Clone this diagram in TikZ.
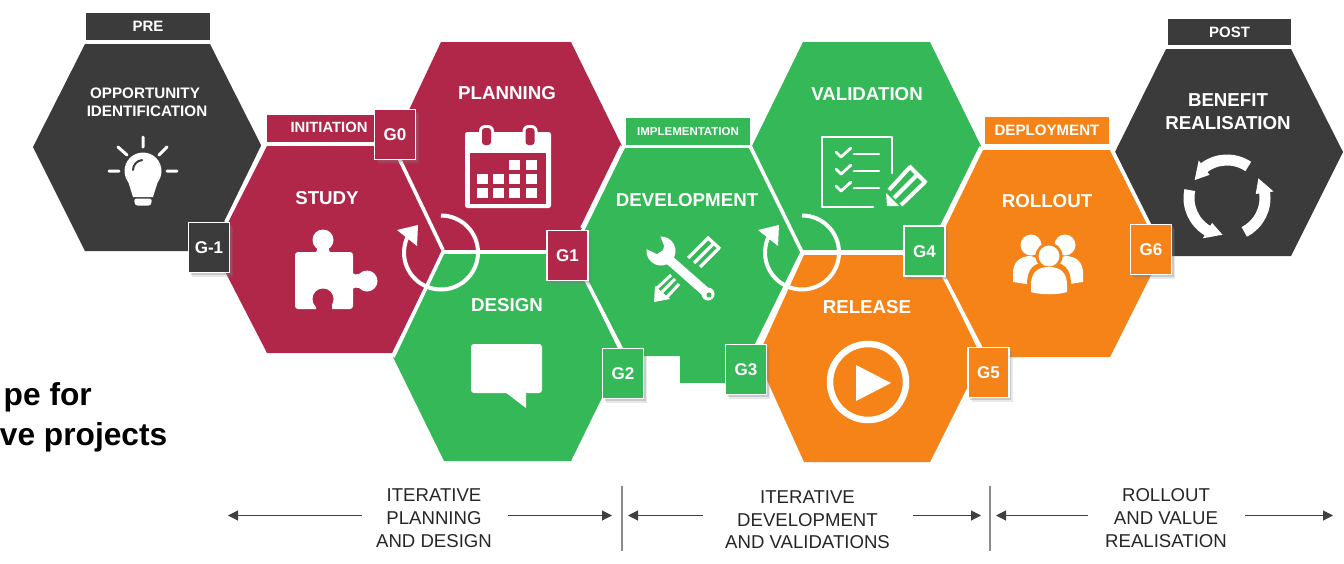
\documentclass[tikz,border=0pt]{standalone}
\usepackage{fontspec}
\setmainfont{Liberation Sans}
\usetikzlibrary{shadows,arrows.meta}
\definecolor{crim}{HTML}{B1274A}
\definecolor{grn}{HTML}{35B858}
\definecolor{org}{HTML}{F58318}
\definecolor{drk}{HTML}{3B3B3B}
\definecolor{arr}{HTML}{404040}
\definecolor{sep}{HTML}{8C8C8C}
\newcommand{\fs}[1]{\fontsize{#1}{#1}\selectfont}
\tikzset{
  capsnode/.style={inner sep=0pt,outer sep=0pt,text depth=0pt,align=center},
  capsize/.style={font=\fs{#1}\bfseries,text height={#1*0.716pt}},
  hextitle/.style={capsnode,text=white,capsize=18.7},
  smalltitle/.style={capsnode,text=white,capsize=15.2},
  banner/.style={capsnode,fill=#1,text=white,minimum height=27pt,minimum width=124pt},
  gate/.style={capsnode,fill=#1,draw=white,line width=1.6pt,text=white,capsize=17,
     minimum width=41pt,minimum height=50pt,
     drop shadow={opacity=.18,shadow xshift=3.5pt,shadow yshift=-4pt},
     drop shadow={opacity=.3,shadow xshift=2pt,shadow yshift=-2.5pt}},
  edge/.style={white,line width=3.6pt},
  bottomtext/.style={capsnode,text=black!85,font=\fs{18.6},text height=13.3pt},
  span/.style={arr,line width=1.1pt,-{Triangle[length=10pt,width=10pt]}},
  divider/.style={sep,line width=1.2pt},
  icon/.style={fill=white,draw=none},
  iconline/.style={white,line cap=round,line join=round},
}
\begin{document}
\begin{tikzpicture}[x=1pt,y=-1pt]
\useasboundingbox (0,0) rectangle (1344,563);
\clip (0,0) rectangle (1344,563);
% hexagons
\fill[drk] (85,44)--(210,44)--(262,147)--(210,251)--(85,251)--(33,147)--cycle;
\fill[crim] (267,146)--(392,146)--(443,250)--(392,353)--(267,353)--(214,250)--cycle;
\fill[crim] (441,42)--(571,42)--(622,146)--(571,250)--(443,250)--(392,146)--cycle;
\fill[grn] (443,254)--(572,254)--(622,357)--(571,461)--(444,461)--(393,357)--cycle;
\fill[grn] (625,148)--(750,148)--(802,252)--(750,356)--(625,356)--(574,252)--cycle;
\fill[grn] (680,350) rectangle (730,383);
\fill[grn] (803,42)--(930,42)--(981,146)--(930,250)--(802,250)--(752,146)--cycle;
\fill[org] (804,255)--(932,255)--(982,358)--(930,462)--(804,462)--(757,358)--cycle;
\fill[org] (983,150)--(1110,150)--(1162,253)--(1110,357)--(983,357)--(933,253)--cycle;
\fill[drk] (1166,49)--(1291,49)--(1343,152)--(1291,256)--(1166,256)--(1115,152)--cycle;
% white seams
\draw[edge] (263,146)--(226,222);
\draw[edge] (398,156)--(443,250);
\draw[edge,line join=round] (393,357)--(443,252)--(550,252);
\draw[edge] (622,146)--(582,228);
\draw[edge] (750,146)--(802,252);
\draw[edge] (585,278)--(622,350);
\draw[edge,line join=round] (755,348)--(802,252.5)--(905,252.5);
\draw[edge] (981,147)--(941,228);
\draw[edge] (943,275)--(982,350);
\draw[edge] (1112,150)--(1150,226);
% cycle arrows
\draw[white,line width=4pt] (441,215.5) arc[start angle=90,end angle=-212,radius=37pt];
\fill[white] (397,230)--(418,225)--(417,246)--cycle;
\draw[white,line width=4pt] (802,215.5) arc[start angle=90,end angle=-212,radius=37pt];
\fill[white] (758,230)--(779,225)--(778,246)--cycle;
% bulb icon
\fill[icon] (143,171) circle[radius=18.5pt];
\fill[icon] (128,181)--(133,197)--(153,197)--(158,181)--cycle;
\fill[icon,rounded corners=2.5pt] (134,198.5)--(152,198.5)--(151,205.5)--(135,205.5)--cycle;
\draw[drk,line width=2pt,line cap=round] (133,170) arc[start angle=180,end angle=95,radius=10pt];
\draw[iconline,line width=3pt] (143,137)--(143,147) (118,147)--(127,155) (167,147)--(159,155) (109,171)--(119,171) (167,171)--(177,171);
% calendar icon
\fill[icon,rounded corners=2.5pt] (465,132) rectangle (551,208);
\fill[crim] (470,153) rectangle (546,204);
\foreach \cx in {486.5,530}{
  \fill[icon,rounded corners=6pt] (\cx-7.5,125) rectangle (\cx+7.5,148);
  \fill[crim,rounded corners=3pt] (\cx-4.5,128) rectangle (\cx+4.5,145);
}
\foreach \cx/\cy in {509/160,526/160,477/174,493/174,509/174,526/174,477/188,493/188,509/188,526/188}{
  \fill[icon] (\cx,\cy) rectangle (\cx+11,\cy+9.5);
}
% puzzle icon
\fill[icon,rounded corners=3pt] (295,252) rectangle (353,309);
\fill[icon] (323,240) circle[radius=10.5pt];
\fill[icon] (313,254) .. controls (318,252) and (318,248) .. (316,246) -- (330,246) .. controls (328,248) and (328,252) .. (333,254) -- cycle;
\fill[icon] (367,281) circle[radius=10.5pt];
\fill[icon] (351,271) .. controls (353,275) and (357,275) .. (360,274) -- (360,288) .. controls (357,287) and (353,287) .. (351,291) -- cycle;
\fill[crim] (323,299) circle[radius=10.5pt];
\fill[crim] (315.5,299) rectangle (331.5,310);
% bubble icon
\fill[icon,rounded corners=3pt] (471,344) rectangle (542,393);
\fill[icon] (505,392)--(526,408)--(526,392)--cycle;
% tools icon
\draw[iconline,line width=3.2pt,line cap=butt] (707,237)--(720,249) (708,238)--(688,258) (714,243)--(694,263) (719,248)--(700,267);
\fill[icon] (661,251) circle[radius=14.5pt];
\fill[grn] (660,236)--(664,246)--(663,250)--(657,254)--(646.5,249)--(638,235)--(655,228)--cycle;
\draw[white,line width=9.5pt] (665,256)--(707,293);
\fill[icon] (708,294) circle[radius=6.5pt];
\fill[grn] (709,295) circle[radius=2.5pt];
\draw[white,line width=3pt] (657,288)--(671,275) (662,292)--(675,279) (667,297)--(679,284);
\fill[icon] (654,302)--(655,286)--(670,299)--cycle;
% checklist icon
\draw[iconline,line width=2.6pt] (892,173)--(892,137)--(822,137)--(822,207)--(873,207);
\foreach \dy in {0,17,34}{
  \draw[iconline,line width=2.8pt] (836,152+\dy)--(841,157+\dy)--(851,148+\dy);
  \draw[iconline,line width=2.6pt] (854,154+\dy)--(879,154+\dy);
}
\draw[white,line width=4pt] (909,166)--(926,183) (910,167)--(889,190) (917.5,174.5)--(894,198) (925,182)--(901,205);
\fill[icon] (886,193)--(899,206)--(887,206)--cycle;
% play icon
\draw[white,line width=6.5pt] (868,382) circle[radius=38pt];
\fill[icon] (856,365)--(856,401)--(891,383)--cycle;
% people icon
\fill[icon] (1031,245) circle[radius=10.5pt];
\fill[icon] (1065,245) circle[radius=10.5pt];
\fill[icon] (1013,282) -- (1013,273) .. controls (1013,262) and (1020,256) .. (1031,256) -- (1046,262) -- (1040,286) -- cycle;
\fill[icon] (1083,282) -- (1083,273) .. controls (1083,262) and (1076,256) .. (1065,256) -- (1050,262) -- (1056,286) -- cycle;
\fill[org] (1027,300)--(1027,285) .. controls (1027,268) and (1034,262) .. (1049,262) .. controls (1064,262) and (1071,268) .. (1071,285) -- (1071,300) -- cycle;
\fill[org] (1049,256) circle[radius=13.5pt];
\fill[icon] (1049,256) circle[radius=10.5pt];
\fill[icon] (1031,292) -- (1031,285) .. controls (1031,273) and (1037,267) .. (1049,267) .. controls (1061,267) and (1067,273) .. (1067,285) -- (1067,292) .. controls (1058,295) and (1040,295) .. (1031,292) -- cycle;
% recycle icon
\begin{scope}[shift={(1227,198)}]
\foreach \s in {56,-63,168}{
  \draw[white,line width=11pt] (\s:38pt) arc[start angle=\s,end angle=\s+72,radius=38pt];
  \fill[icon] (\s+71:29pt)--(\s+71:47pt)--(\s+95:37pt)--cycle;
}
\end{scope}
% banners
\node[banner=drk,capsize=15] (pre) at (148,26.5) {PRE};
\fill[crim] (267,115) rectangle (376,142);
\node[capsnode,text=white,capsize=14.8] (init) at (329,127.5) {INITIATION};
\node[banner=grn,capsize=11.5] (impl) at (688,131.5) {IMPLEMENTATION};
\node[banner=org,capsize=15.1] (depl) at (1047,130.5) {DEPLOYMENT};
\node[banner=drk,capsize=15,minimum width=123pt,minimum height=26pt] (post) at (1229.5,32) {POST};
% hexagon titles
\node[smalltitle] (t0) at (145,93) {OPPORTUNITY};
\node[smalltitle] (t0b) at (147,111.5) {IDENTIFICATION};
\node[hextitle] (t1) at (327,197.5) {STUDY};
\node[hextitle] (t2) at (507,92.5) {PLANNING};
\node[hextitle] (t3) at (507,305) {DESIGN};
\node[hextitle] (t4) at (687,200) {DEVELOPMENT};
\node[hextitle] (t5) at (867,94) {VALIDATION};
\node[hextitle] (t6) at (867,307) {RELEASE};
\node[hextitle] (t7) at (1047,201) {ROLLOUT};
\node[hextitle] (t8) at (1228,100) {BENEFIT};
\node[hextitle] (t8b) at (1228,123) {REALISATION};
% gates
\node[gate=crim] (g0) at (395,134.5) {G0};
\node[gate=drk] (gm1) at (209,247.5) {G-1};
\node[gate=crim] (g1) at (567.5,255.5) {G1};
\node[gate=grn] (g2) at (623,373.5) {G2};
\node[gate=grn] (g3) at (746,369.5) {G3};
\node[gate=grn] (g4) at (924.5,251) {G4};
\node[gate=org] (g5) at (988.5,372.5) {G5};
\node[gate=org] (g6) at (1151,249.5) {G6};
% left text
\node[anchor=base east,inner sep=0pt,font=\fs{31.7}\bfseries,text=black] (la) at (92,405) {pe for};
\node[anchor=base east,inner sep=0pt,font=\fs{31.7}\bfseries,text=black] (lb) at (167.5,445) {ve projects};
% bottom
\node[bottomtext] (b1a) at (434,495) {ITERATIVE};
\node[bottomtext] (b1b) at (434,518) {PLANNING};
\node[bottomtext] (b1c) at (434,540.5) {AND DESIGN};
\node[bottomtext] (b2a) at (807.5,496.5) {ITERATIVE};
\node[bottomtext] (b2b) at (807.5,519.5) {DEVELOPMENT};
\node[bottomtext] (b2c) at (807.5,542) {AND VALIDATIONS};
\node[bottomtext] (b3a) at (1166,495) {ROLLOUT};
\node[bottomtext] (b3b) at (1166,518) {AND VALUE};
\node[bottomtext] (b3c) at (1166,540.5) {REALISATION};
\coordinate (a1) at (362,515.5); \coordinate (a1e) at (228,515.5);
\coordinate (a2) at (508,515.5); \coordinate (a2e) at (612,515.5);
\coordinate (a3) at (703,515.5); \coordinate (a3e) at (628,515.5);
\coordinate (a4) at (913,515.5); \coordinate (a4e) at (981,515.5);
\coordinate (a5) at (1088,515.5); \coordinate (a5e) at (996,515.5);
\coordinate (a6) at (1245,515.5); \coordinate (a6e) at (1333,515.5);
\foreach \p/\q in {a1/a1e,a2/a2e,a3/a3e,a4/a4e,a5/a5e,a6/a6e}{\draw[span] (\p)--(\q);}
\coordinate (d1t) at (622,485.5); \coordinate (d1b) at (622,551);
\coordinate (d2t) at (990,485.5); \coordinate (d2b) at (990,551);
\draw[divider] (d1t)--(d1b);
\draw[divider] (d2t)--(d2b);
\end{tikzpicture}
\end{document}
